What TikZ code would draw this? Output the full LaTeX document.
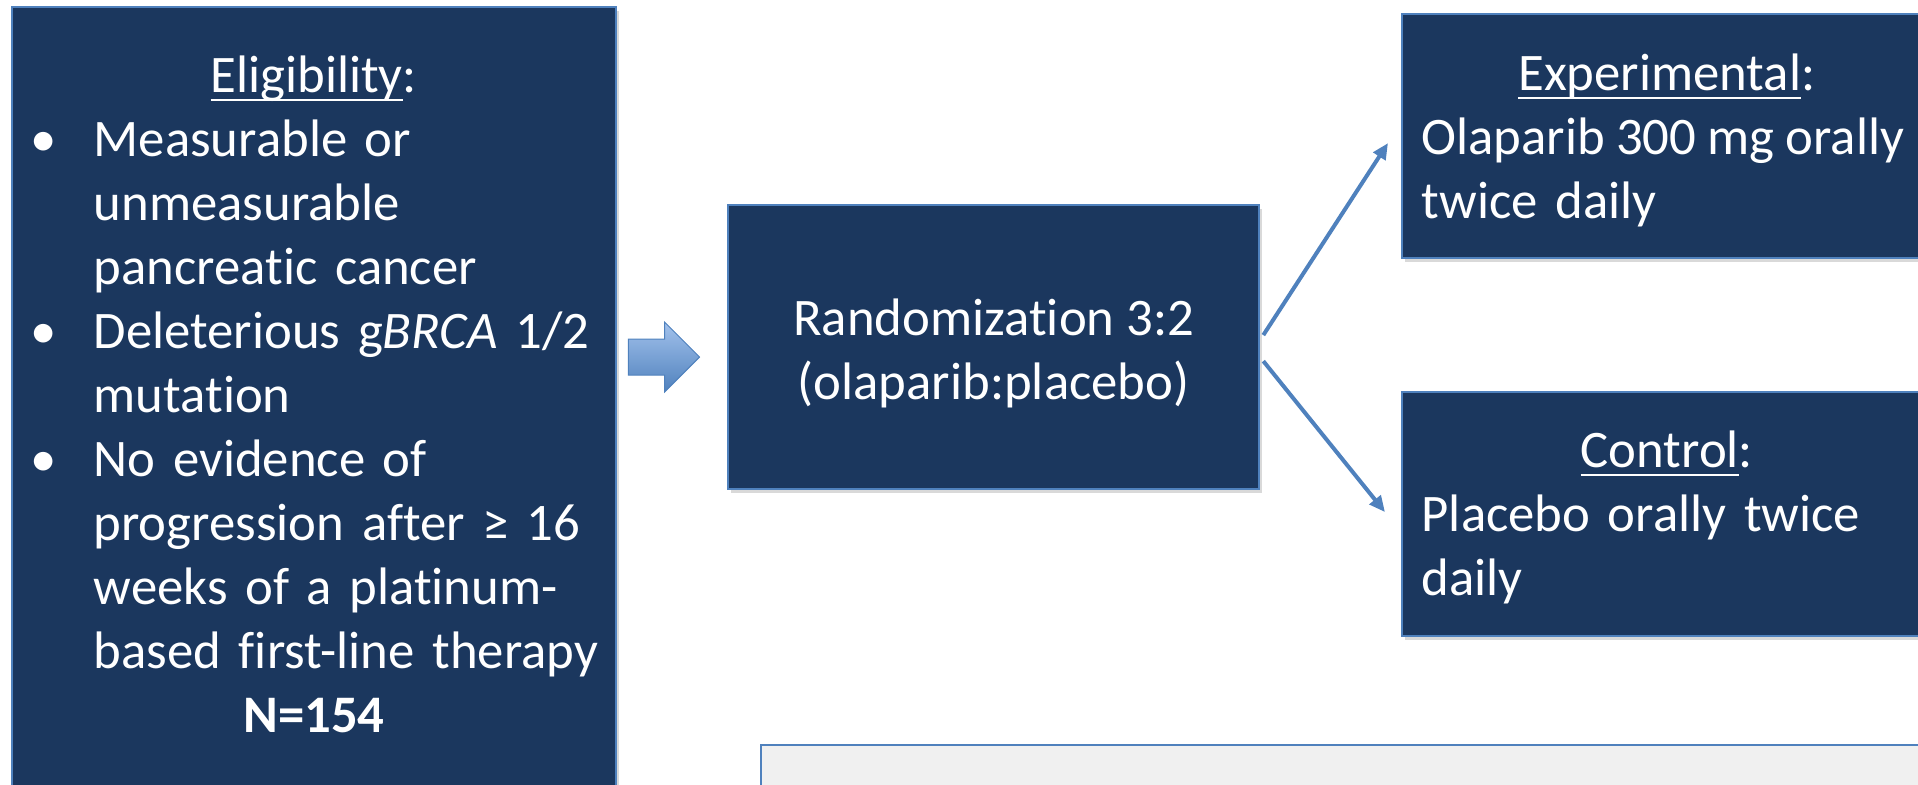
\documentclass[tikz,border=0pt]{standalone}
\usepackage{fontspec}
\setmainfont{Carlito}[Ligatures=NoCommon]
\usetikzlibrary{positioning,shapes.arrows,shadows,arrows.meta}
\setlength{\parindent}{0pt}

\definecolor{granat}{HTML}{1B375E}
\definecolor{ramka}{HTML}{4F81BD}
\definecolor{jasnoniebieski}{HTML}{A3C2EC}
\definecolor{szary}{HTML}{F0F0F0}

% podkreslenie tytulow
\newcommand{\podkr}[1]{\setbox0\hbox{#1}\rlap{\rule[-0.09cm]{\wd0}{0.025cm}}\box0}
\newcommand{\punkt}{\hangindent=0.63cm\hangafter=1\noindent\makebox[0.63cm][l]{\textbullet}}

\tikzset{
  panel/.style={rectangle, draw=ramka, line width=0.02cm, fill=granat, inner sep=0pt, anchor=north west,
    drop shadow={shadow xshift=0.03cm, shadow yshift=-0.04cm, opacity=0.3}},
  opis/.style={text=white, font=\fontsize{15pt}{18.2pt}\selectfont, inner sep=0pt},
  polaczenie/.style={draw=ramka, line width=0.04cm, -{Triangle[length=0.16cm,width=0.14cm]}}
}

\begin{document}
\begin{tikzpicture}[x=0.01cm, y=-0.01cm]
        % Obszar rysunku
        \useasboundingbox (0,0) rectangle (1918,784);
        \clip (0,0) rectangle (1918,784);

        % Kryteria wlaczenia
        \node[panel, minimum width=6.04cm, minimum height=8.2cm] (elig) at (11,6) {};
        \node[opis, anchor=north west, text width=5.66cm, align=left] (eligtxt) at (30,55) {%
          {\centering\podkr{Eligibility}:\par}
          \punkt Measurable or\newline unmeasurable\newline pancreatic cancer\par
          \punkt Deleterious g\textit{BRCA} 1/2\newline mutation\par
          \punkt No evidence of\newline progression after ≥ 16\newline weeks of a platinum-\newline \mbox{based first-line therapy}\par
          {\centering\textbf{N=154}\par}};

        % Strzalka blokowa
        \node[single arrow, draw=ramka, line width=0.01cm, top color=jasnoniebieski, bottom color=ramka,
          minimum height=0.71cm, single arrow head extend=0.17cm, inner xsep=0pt, inner ysep=0.175cm] (strzalka) at (655,357) {};

        % Randomizacja
        \node[panel, minimum width=5.31cm, minimum height=2.84cm] (rand) at (727,204) {};
        \node[opis, align=center] (randtxt) at ([yshift=-0.06cm]rand.center) {Randomization 3:2\\(olaparib:placebo)};

        % Ramiona badania
        \node[panel, minimum width=5.3cm, minimum height=2.44cm] (exp) at (1401,13) {};
        \node[opis, anchor=north west, text width=4.9cm, align=left] (exptxt) at (1421,53) {%
          {\centering\podkr{Experimental}:\par}
          \mbox{\spaceskip=0.21em Olaparib 300 mg orally}\newline twice daily};

        \node[panel, minimum width=5.3cm, minimum height=2.44cm] (ctrl) at (1401,391) {};
        \node[opis, anchor=north west, text width=4.9cm, align=left] (ctrltxt) at (1421,430) {%
          {\centering\podkr{Control}:\par}
          Placebo orally twice\newline daily};

        % Polaczenia
        \draw[polaczenie] ([xshift=0.03cm, yshift=0.12cm]rand.east) -- ([xshift=-0.13cm, yshift=-0.07cm]exp.west);
        \draw[polaczenie] ([xshift=0.03cm, yshift=-0.14cm]rand.east) -- ([xshift=-0.16cm, yshift=0.02cm]ctrl.west);

        % Pole na dole
        \node[rectangle, draw=ramka, line width=0.02cm, fill=szary, anchor=north west, inner sep=0pt,
          minimum width=12cm, minimum height=1cm] (uwagi) at (760,744) {};
    \end{tikzpicture}
\end{document}
